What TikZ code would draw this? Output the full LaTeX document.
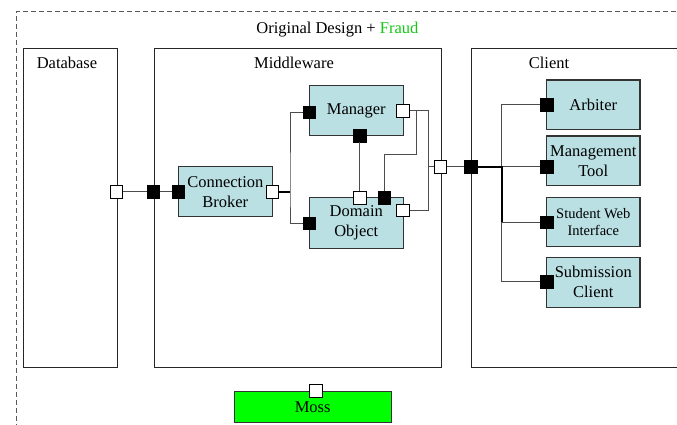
\documentclass[tikz,border=0pt]{standalone}
\usepackage{fontspec}
\setmainfont{Liberation Serif}
\definecolor{compblue}{RGB}{186,224,228}
\definecolor{mossgreen}{RGB}{0,255,0}
\definecolor{fraudgreen}{RGB}{20,200,20}

\tikzset{
  layer/.style     = {shape=rectangle, draw=black!85, line width=1.1pt,
                      anchor=north west, minimum height=318.4pt},
  component/.style = {shape=rectangle, draw=black!80, line width=1.1pt,
                      fill=compblue, align=center, inner sep=1pt,
                      minimum width=94pt, minimum height=50pt},
  port/.style      = {shape=rectangle, draw=black, line width=0.8pt,
                      minimum size=12.5pt, inner sep=0pt},
  openport/.style  = {port, fill=white},
  fillport/.style  = {port, fill=black},
  frame/.style     = {draw=black!65, line width=0.9pt, dash pattern=on 5pt off 3pt}
}

\begin{document}
\begin{tikzpicture}
[
x=1pt, y=-1pt,
    wire/.style       = {draw=black!70, line width=1pt},
    trunk/.style      = {draw=black, line width=2pt},
    every node/.style = {font=\fontsize{16.5}{20}\selectfont}
  ]
\useasboundingbox (0,0) rectangle (677,425);
\clip (0,0) rectangle (677,425);
\draw[frame] (700,11.5) -- (16.4,11.5) -- (16.4,440);
\node (heading) at (337.4,30) {Original Design + \textcolor{fraudgreen}{Fraud}};

\node[layer, minimum width=94.2pt] (db) at (22.5,48.3) {};
\node[layer, minimum width=287pt] (mw) at (153.5,48.3) {};
\node[layer, minimum width=240pt] (cl) at (470.7,48.3) {};
\node (dbname) at (67,63.3) {Database};
\node (mwname) at (294,63.3) {Middleware};
\node (clname) at (549,63.3) {Client};

\node[component] (broker)  at (225.3,191.7) {Connection\\Broker};
\node[component] (manager) at (356.3,110.7) {Manager};
\node[component, minimum height=50.6pt] (domain) at (356.3,223) {Domain\\Object};
\node[component, minimum width=93.3pt, minimum height=49.3pt] (arbiter) at (593.3,104.7) {Arbiter};
\node[component, minimum width=93.3pt, minimum height=49.3pt] (tool)    at (593.3,160.7) {Management\\Tool};
\node[component, minimum width=93.3pt, minimum height=49.7pt,
      font=\fontsize{14.5}{17.4}\selectfont] (web) at (593.3,222) {Student Web\\Interface};
\node[component, minimum width=93.3pt, minimum height=49.7pt] (submit) at (593.3,282.2) {Submission\\Client};
\node[component, fill=mossgreen, minimum width=156.7pt, minimum height=31.7pt] (moss) at (312.7,407) {Moss};

\node[openport] (dbport)    at (116.4,191.7) {};
\node[fillport] (mwin)      at (153.5,191.7) {};
\node[fillport] (brokerin)  at (178.5,191.7) {};
\node[openport] (brokerout) at (272.3,191.7) {};
\node[fillport] (mgrin)     at (309.3,112.3) {};
\node[openport] (mgrout)    at (403,111) {};
\node[fillport] (mgrdown)   at (359.7,135.7) {};
\node[fillport] (domin)     at (309.3,223.3) {};
\node[openport] (domup)     at (359.7,198) {};
\node[fillport] (domlink)   at (384.3,198) {};
\node[openport] (domout)    at (403,210.5) {};
\node[openport] (mwout)     at (440.5,166.7) {};
\node[fillport] (clin)      at (470.7,166.7) {};
\node[fillport] (arbin)     at (546.7,105) {};
\node[fillport] (toolin)    at (546.7,166.7) {};
\node[fillport] (webin)     at (546.7,222.3) {};
\node[fillport] (subin)     at (546.7,281.7) {};
\node[openport] (mossport)  at (315.8,391) {};

\coordinate (split) at (290,191.7);
\coordinate (loop)  at (416,154);
\coordinate (riser) at (428,111);
\coordinate (bus)   at (501.7,166.7);

\draw[wire] (dbport) -- (mwin) -- (brokerin);
\draw[trunk] (brokerout) -- (split);
\draw[wire] (mgrin) -| (split) |- (domin);
\draw[wire] (mgrdown) -- (domup);
\draw[wire] (domlink) |- (loop) |- (mgrout);
\draw[wire] (mgrout) -- (riser) |- (domout);
\draw[wire] (mwout) -- (riser |- mwout);
\draw[wire] (mwout) -- (clin);
\draw[wire] (arbin) -| (bus) |- (subin);
\draw[wire] (toolin) -- (bus);
\draw[wire] (webin) -| (bus);
\draw[trunk] (clin) -- (bus) -- (bus |- webin);
\end{tikzpicture}
\end{document}
